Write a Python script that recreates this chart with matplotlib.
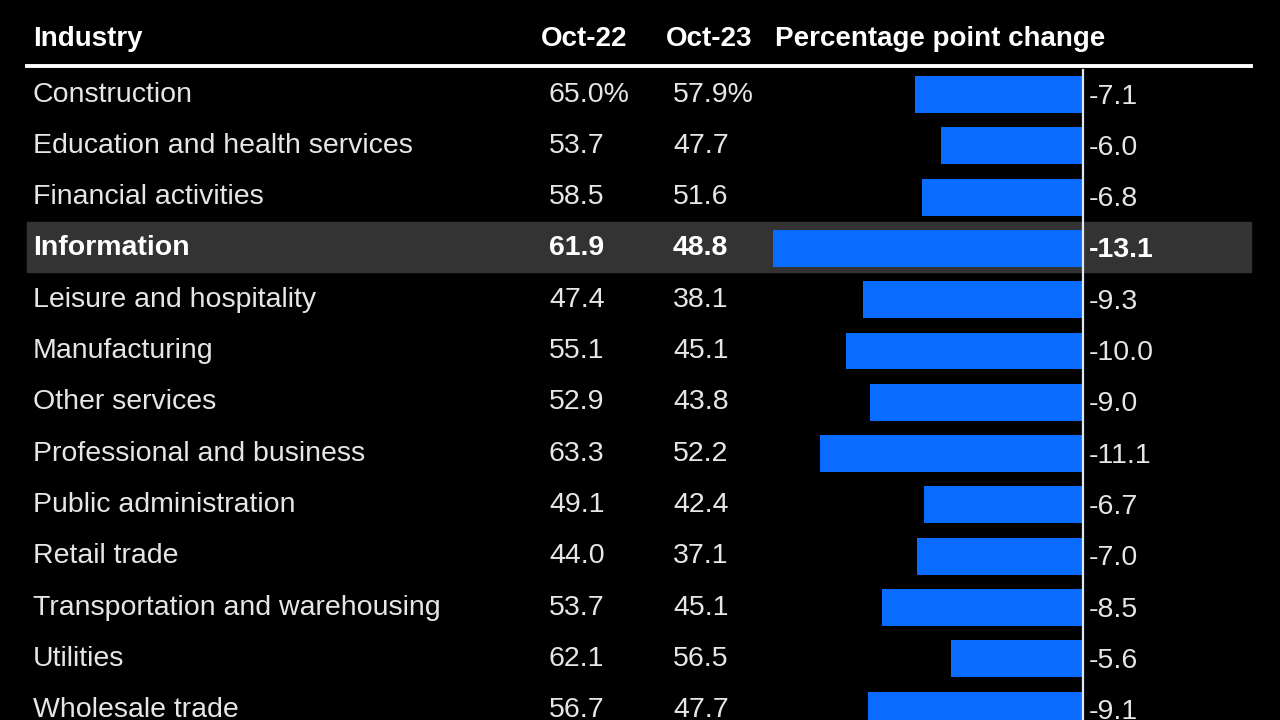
#!/usr/bin/env python3
"""Table chart: share of job openings by industry, Oct-22 vs Oct-23."""

import matplotlib
matplotlib.use("Agg")
import matplotlib.pyplot as plt
from matplotlib import transforms

industries = [
    "Construction", "Education and health services", "Financial activities",
    "Information", "Leisure and hospitality", "Manufacturing", "Other services",
    "Professional and business", "Public administration", "Retail trade",
    "Transportation and warehousing", "Utilities", "Wholesale trade",
]
oct22 = [65.0, 53.7, 58.5, 61.9, 47.4, 55.1, 52.9, 63.3, 49.1, 44.0, 53.7, 62.1, 56.7]
oct23 = [57.9, 47.7, 51.6, 48.8, 38.1, 45.1, 43.8, 52.2, 42.4, 37.1, 45.1, 56.5, 47.7]
change = [-7.1, -6.0, -6.8, -13.1, -9.3, -10.0, -9.0, -11.1, -6.7, -7.0, -8.5, -5.6, -9.1]
headers = ["Industry", "Oct-22", "Oct-23", "Percentage point change"]
highlight = "Information"

W, H = 1280, 720
ROW0, ROWH = 94.5, 51.3        # pixel centre of first row, row pitch
ZERO, SCALE = 1083, 23.66      # pixel x of zero, pixels per point

plt.rcParams["font.family"] = ["Liberation Sans", "DejaVu Sans"]
fig = plt.figure(figsize=(W / 100, H / 100), dpi=100, facecolor="black")
ax = fig.add_axes([0, 0, 1, 1], facecolor="black")
ax.set_xlim(-ZERO / SCALE, (W - ZERO) / SCALE)
ax.set_ylim((H - ROW0) / ROWH, -ROW0 / ROWH)
ax.axis("off")

# x in figure fraction, y in row units
tr = transforms.blended_transform_factory(fig.transFigure, ax.transData)
left, right = 27 / W, 1251 / W
row_of = lambda px: (px - ROW0) / ROWH

hi = industries.index(highlight)
ax.axhspan(row_of(222), row_of(272), xmin=left, xmax=right, color="#333333", zorder=0)

ax.barh(range(len(change)), change, height=0.72, color="#0a6cff", zorder=2)
ax.axvline(0, ymin=0, ymax=1 - 70 / H, color="#dfe8f5", lw=1.6, zorder=3)
ax.axhline(row_of(66), xmin=left, xmax=right, color="white", lw=2.8)

for txt, x in zip(headers, [33, 541, 666, 775]):
    ax.text(x / W, row_of(39), txt, transform=tr, color="white", fontsize=20,
            fontweight="bold", ha="left", va="center")

fmt = lambda v, i: f"{v:.1f}%" if i == 0 else f"{v:.1f}"
for i, name in enumerate(industries):
    bold = name == highlight
    kw = dict(transform=tr, color="white" if bold else "#e6e6e6", fontsize=20.5,
              fontweight="bold" if bold else "normal", va="center", ha="left")
    ax.text(33 / W, i, name, **kw)
    ax.text(549 / W, i, fmt(oct22[i], i), **kw)
    ax.text(673 / W, i, fmt(oct23[i], i), **kw)
    ax.text(1089 / W, i + 0.04, f"{change[i]:.1f}", **kw)

fig.savefig("out.png", dpi=100, facecolor="black")
